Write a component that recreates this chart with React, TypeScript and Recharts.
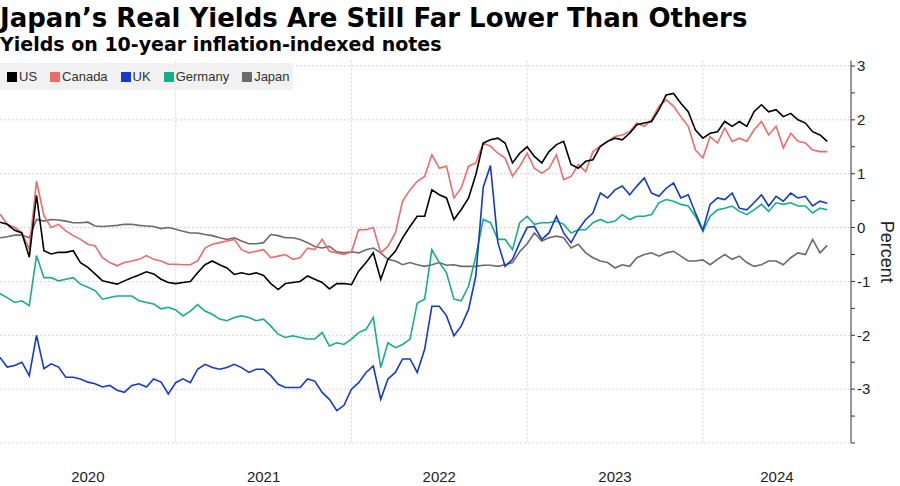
import React from 'react';
import { LineChart, Line, XAxis, YAxis, CartesianGrid } from 'recharts';

// Semi-monthly observations (1st and 16th), Jan 2020 - Sep 2024
const DATES: string[] = [];
for (let i = 0; i < 114; i++) {
  const y = 2020 + Math.floor(i / 24);
  const m = Math.floor((i % 24) / 2) + 1;
  DATES.push(`${y}-${String(m).padStart(2, '0')}-${i % 2 === 0 ? '01' : '16'}`);
}

const US = [
  0.1, 0.06, -0.05, -0.1, -0.55, 0.6, -0.43, -0.49, -0.46, -0.46, -0.43, -0.65, -0.74, -0.86, -0.99, -1.02, -1.05, -0.99, -0.93, -0.88, -0.82, -0.86, -0.96, -1.02,
  -1.04, -1.02, -1.0, -0.84, -0.69, -0.62, -0.69, -0.75, -0.87, -0.84, -0.87, -0.84, -0.89, -1.04, -1.15, -1.04, -1.02, -1.0, -0.9, -0.96, -1.02, -1.14, -1.04, -1.04,
  -1.06, -0.81, -0.65, -0.47, -0.96, -0.59, -0.44, -0.19, 0.02, 0.21, 0.21, 0.7, 0.61, 0.55, 0.15, 0.33, 0.55, 0.98, 1.57, 1.63, 1.66, 1.57, 1.2, 1.38,
  1.5, 1.32, 1.2, 1.41, 1.54, 1.6, 1.17, 1.1, 1.23, 1.26, 1.51, 1.6, 1.66, 1.63, 1.75, 1.91, 1.94, 1.97, 2.19, 2.46, 2.49, 2.31, 2.15, 1.81,
  1.66, 1.75, 1.78, 1.97, 1.88, 1.97, 1.88, 2.15, 2.28, 2.15, 2.19, 2.06, 2.12, 2.0, 1.94, 1.78, 1.72, 1.6,
];

const CANADA = [
  0.25, 0.06, 0.0, -0.09, -0.4, 0.86, 0.22, 0.0, 0.06, -0.06, -0.15, -0.22, -0.31, -0.34, -0.56, -0.65, -0.71, -0.65, -0.62, -0.59, -0.52, -0.59, -0.62, -0.68,
  -0.68, -0.69, -0.69, -0.62, -0.38, -0.31, -0.28, -0.25, -0.22, -0.41, -0.47, -0.44, -0.41, -0.56, -0.53, -0.5, -0.59, -0.56, -0.38, -0.41, -0.22, -0.44, -0.47, -0.5,
  -0.45, -0.04, -0.04, 0.0, -0.47, -0.35, -0.1, 0.49, 0.7, 0.86, 0.95, 1.35, 1.1, 1.14, 0.55, 0.73, 1.14, 1.2, 1.57, 1.51, 1.38, 1.29, 0.95, 1.14,
  1.38, 1.1, 1.01, 1.1, 1.35, 0.89, 0.95, 1.17, 1.04, 1.41, 1.51, 1.6, 1.69, 1.72, 1.78, 1.94, 1.88, 2.0, 2.25, 2.37, 2.25, 2.06, 1.88, 1.44,
  1.29, 1.69, 1.57, 1.85, 1.6, 1.66, 1.6, 1.81, 1.97, 1.72, 1.88, 1.48, 1.75, 1.6, 1.57, 1.44, 1.41, 1.41,
];

const UK = [
  -2.41, -2.59, -2.56, -2.5, -2.75, -2.0, -2.62, -2.53, -2.59, -2.78, -2.78, -2.81, -2.87, -2.9, -2.96, -2.93, -3.02, -3.06, -2.93, -2.9, -2.96, -2.81, -2.87, -3.09,
  -2.88, -2.81, -2.88, -2.63, -2.54, -2.6, -2.63, -2.6, -2.54, -2.6, -2.69, -2.63, -2.63, -2.75, -2.91, -2.97, -2.97, -2.97, -2.81, -2.85, -3.06, -3.19, -3.4, -3.3,
  -3.0, -2.88, -2.69, -2.57, -3.19, -2.81, -2.69, -2.44, -2.44, -2.69, -2.26, -1.46, -1.46, -1.64, -2.01, -1.83, -1.52, -0.9, 0.75, 1.15, -0.28, -0.72, -0.59, -0.28,
  0.0, 0.02, -0.22, -0.1, 0.21, -0.1, -0.28, -0.04, 0.15, 0.27, 0.64, 0.55, 0.7, 0.77, 0.61, 0.77, 0.92, 0.64, 0.58, 0.73, 0.83, 0.55, 0.61, 0.27,
  -0.05, 0.43, 0.55, 0.52, 0.64, 0.36, 0.33, 0.46, 0.61, 0.4, 0.58, 0.49, 0.64, 0.55, 0.58, 0.4, 0.49, 0.45,
];

const GERMANY = [
  -1.23, -1.3, -1.39, -1.36, -1.45, -0.52, -0.93, -0.93, -0.99, -0.96, -0.93, -1.05, -1.11, -1.17, -1.33, -1.3, -1.27, -1.27, -1.27, -1.36, -1.39, -1.42, -1.51, -1.48,
  -1.53, -1.64, -1.55, -1.43, -1.55, -1.61, -1.7, -1.73, -1.67, -1.64, -1.67, -1.73, -1.7, -1.83, -1.98, -2.04, -2.01, -2.04, -2.07, -2.07, -1.95, -2.2, -2.14, -2.17,
  -2.07, -1.95, -1.89, -1.67, -2.6, -2.14, -2.23, -2.17, -2.07, -1.4, -1.33, -0.41, -0.65, -0.84, -1.33, -1.36, -1.09, -0.53, 0.15, 0.09, -0.22, -0.22, -0.41, 0.09,
  0.21, 0.06, 0.09, 0.09, 0.12, 0.06, -0.1, -0.04, -0.04, 0.09, 0.15, 0.09, 0.12, 0.24, 0.15, 0.21, 0.21, 0.24, 0.46, 0.52, 0.49, 0.43, 0.4, 0.21,
  -0.07, 0.21, 0.33, 0.36, 0.4, 0.3, 0.24, 0.33, 0.43, 0.3, 0.46, 0.43, 0.46, 0.4, 0.4, 0.27, 0.36, 0.33,
];

const JAPAN = [
  -0.19, -0.17, -0.14, -0.14, -0.19, 0.15, 0.12, 0.15, 0.14, 0.12, 0.09, 0.09, 0.1, 0.03, 0.02, 0.03, 0.04, 0.06, 0.06, 0.04, 0.03, 0.02, -0.02, 0.0,
  -0.03, -0.07, -0.1, -0.1, -0.13, -0.15, -0.19, -0.22, -0.19, -0.25, -0.3, -0.3, -0.28, -0.13, -0.15, -0.19, -0.19, -0.22, -0.28, -0.35, -0.38, -0.35, -0.45, -0.47,
  -0.45, -0.47, -0.41, -0.38, -0.47, -0.59, -0.62, -0.69, -0.65, -0.69, -0.72, -0.69, -0.65, -0.7, -0.69, -0.72, -0.72, -0.72, -0.7, -0.7, -0.72, -0.69, -0.65, -0.45,
  -0.3, -0.1, -0.25, -0.19, -0.16, -0.19, -0.38, -0.31, -0.47, -0.56, -0.62, -0.65, -0.75, -0.69, -0.72, -0.56, -0.5, -0.47, -0.53, -0.47, -0.44, -0.53, -0.62, -0.62,
  -0.6, -0.69, -0.59, -0.5, -0.59, -0.53, -0.65, -0.72, -0.69, -0.62, -0.62, -0.69, -0.56, -0.47, -0.5, -0.22, -0.47, -0.33,
];

const YEAR_LABELS = ['2020', '2021', '2022', '2023', '2024'];
const Y_TICKS = [-4, -3.5, -3, -2.5, -2, -1.5, -1, -0.5, 0, 0.5, 1, 1.5, 2, 2.5, 3];
const GRID_Y = [-4, -3, -2, -1, 0, 1, 2, 3];
const GRID_X = [2021, 2022, 2023, 2024];

const SERIES = [
  { key: 'us', name: 'US', color: '#000000' },
  { key: 'canada', name: 'Canada', color: '#f0696b' },
  { key: 'uk', name: 'UK', color: '#1538cf' },
  { key: 'germany', name: 'Germany', color: '#14ae8a' },
  { key: 'japan', name: 'Japan', color: '#6b6b6b' },
];

const X_MIN = 2020;
const X_MAX = 2024.843;

const toYear = (s: string) => {
  const [y, m, d] = s.split('-').map(Number);
  return y + (m - 1) / 12 + (d - 1) / 365;
};

const data = DATES.map((d, i) => ({
  t: toYear(d),
  us: US[i],
  canada: CANADA[i],
  uk: UK[i],
  germany: GERMANY[i],
  japan: JAPAN[i],
}));

// year labels sit in the middle of each year's visible span
const xTicks = YEAR_LABELS.map((y) => (Number(y) + Math.min(Number(y) + 1, X_MAX)) / 2);

const sans = '"Liberation Sans", Arial, sans-serif';

const App: React.FC = () => {
  return (
    <div style={{ position: 'absolute', left: 0, top: 0, width: 900, height: 486, background: '#fff', overflow: 'hidden' }}>
      <div style={{ position: 'absolute', left: 0, top: 5, fontFamily: '"DejaVu Sans", sans-serif', fontWeight: 'bold', fontSize: 26, lineHeight: '26px', color: '#000', whiteSpace: 'nowrap' }}>
        Japan’s Real Yields Are Still Far Lower Than Others
      </div>
      <div style={{ position: 'absolute', left: 0, top: 34.5, fontFamily: '"DejaVu Sans", sans-serif', fontWeight: 'bold', fontSize: 19, lineHeight: '19px', color: '#000', whiteSpace: 'nowrap' }}>
        Yields on 10-year inflation-indexed notes
      </div>

      <div style={{ position: 'absolute', left: 0, top: 0 }}>
        <LineChart width={900} height={486} data={data} margin={{ top: 60.6, right: 9, left: 0, bottom: 0 }}>
          <CartesianGrid
            stroke="#d4d4d4"
            strokeDasharray="2 2"
            horizontalValues={GRID_Y}
            verticalValues={GRID_X}
          />
          <XAxis
            dataKey="t"
            type="number"
            domain={[X_MIN, X_MAX]}
            ticks={xTicks}
            tickFormatter={(v: number) => String(Math.floor(v))}
            tickLine={false}
            axisLine={false}
            tickMargin={22}
            height={43}
            tick={{ fontSize: 15, fill: '#222', fontFamily: sans }}
            interval={0}
            allowDataOverflow
          />
          <YAxis
            orientation="right"
            type="number"
            domain={[-4, 3.1]}
            ticks={Y_TICKS}
            tickFormatter={(v: number) => (Number.isInteger(v) && v > -4 ? String(v) : '')}
            width={40}
            tickSize={4}
            tickMargin={2}
            interval={0}
            allowDataOverflow
            axisLine={{ stroke: '#333' }}
            tickLine={{ stroke: '#333' }}
            tick={{ fontSize: 15, fill: '#222', fontFamily: sans }}
            label={{ value: 'Percent', angle: 90, position: 'right', offset: -4, style: { fontSize: 18, fill: '#222', fontFamily: sans, textAnchor: 'middle' } }}
          />
          {[...SERIES].reverse().map((s) => (
            <Line
              key={s.key}
              type="linear"
              dataKey={s.key}
              name={s.name}
              stroke={s.color}
              strokeWidth={1.6}
              dot={false}
              isAnimationActive={false}
            />
          ))}
        </LineChart>
      </div>

      <div style={{ position: 'absolute', left: 0, top: 63, width: 293, height: 27, background: 'rgba(238,238,238,0.85)', display: 'flex', alignItems: 'center', fontFamily: sans, fontSize: 13, color: '#333' }}>
        {SERIES.map((s, i) => (
          <div key={s.key} style={{ display: 'flex', alignItems: 'center', marginLeft: i === 0 ? 7 : 13 }}>
            <span style={{ display: 'inline-block', width: 10, height: 10, background: s.color, marginRight: 2 }} />
            <span>{s.name}</span>
          </div>
        ))}
      </div>
    </div>
  );
};

export default App;
